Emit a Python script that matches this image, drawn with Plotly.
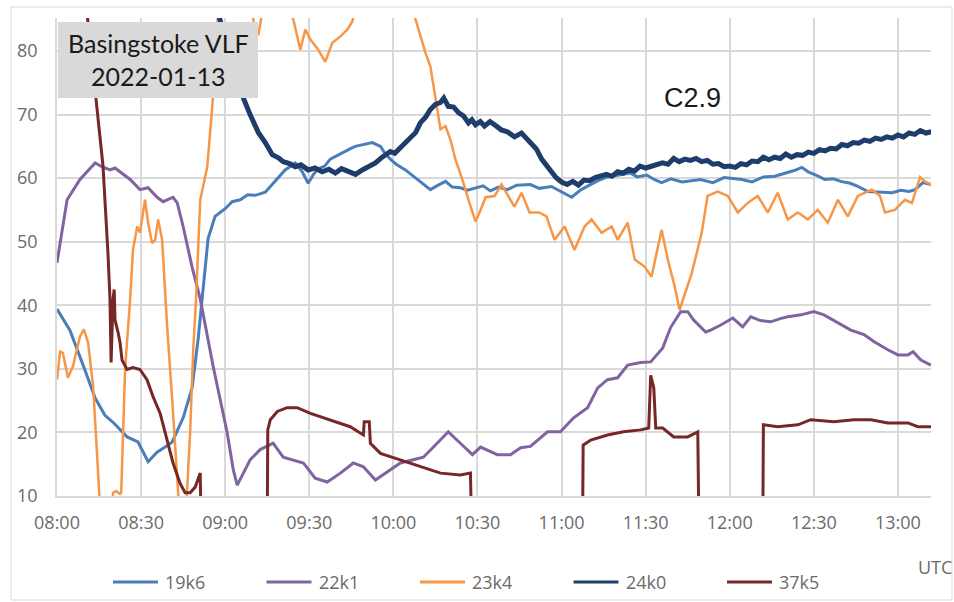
import pandas as pd
import plotly.graph_objects as go

# ---------------- data (minutes after 08:00 UTC, signal level) ----------------
series_names = ["19k6", "22k1", "23k4", "24k0", "37k5"]
series_colors = ["#4a7ebb", "#8064a2", "#f79646", "#1f3d6b", "#772726"]
series_widths = [3, 3, 2.5, 5, 3]

t_19k6 = [0, 4.6, 9.3, 13.6, 17.1, 20, 25, 28.9, 32.5, 35.7, 38.6, 41.1, 45, 48.2, 50.4, 52.1,
          53.9, 56.4, 58, 60, 62.5, 65.4, 68, 70.7, 74.3, 77.9, 81.4, 85, 87.5, 89.6, 91.5, 93.2,
          95.5, 97.5, 100, 102.9, 104.5, 106.4, 109, 112.5, 115.4, 117, 118.9, 121, 124.3, 127,
          129.6, 133.2, 136, 138.6, 141, 143.9, 146.5, 149.3, 152, 154.6, 157.5, 160.7, 164,
          168.9, 172, 176.4, 180, 183.6, 187, 190.4, 193, 196.4, 200, 204.6, 207, 210.4, 213,
          215.7, 219, 223, 229.6, 234, 238, 244.3, 248, 252, 256.1, 260, 263, 265.7, 268, 270.7,
          273.9, 277, 279.6, 283, 285.7, 289.3, 293, 297.9, 301, 304, 306.1, 308.9, 312]
v_19k6 = [39.4, 36.1, 30.6, 25.4, 22.7, 21.6, 19.3, 18.5, 15.4, 16.9, 17.7, 18.5, 22.3, 27, 34.9, 42,
          50.5, 54, 54.6, 55.2, 56.3, 56.6, 57.4, 57.3, 57.8, 59.5, 61.3, 62.4, 61, 59.2, 60.6, 61.5,
          61.9, 63, 63.6, 64.3, 64.6, 65, 65.3, 65.6, 65, 63.9, 63, 62.2, 61.3, 60.4,
          59.5, 58.2, 58.9, 59.5, 58.6, 58.5, 58.1, 58.5, 58.8, 58, 58.6, 58.2, 58.9,
          59, 58.4, 58.7, 57.9, 57, 58.2, 59, 59.6, 60.2, 60.5, 60.8, 60.2, 60.5, 59.8,
          59.3, 59.9, 59.4, 59.8, 59.3, 60.1, 59.8, 59.4, 60.2, 60.3, 60.8, 61.2, 61.7, 61, 60.5,
          59.8, 59.9, 59.5, 59.2, 58.7, 57.9, 57.8, 57.7, 58.1, 57.9, 58.2, 59.3, 59]

t_22k1 = [0, 3.6, 8.2, 13.6, 16, 18.9, 20.7, 23, 26.1, 29.6, 32.5, 35.7, 37.9, 41.4, 42.9, 45,
          48.2, 51.1, 55.7, 60.7, 62.9, 64.3, 66.4, 68.9, 72.5, 77.1, 80.7, 84.3, 87.9, 92.1,
          96.4, 101.1, 105.7, 109.3, 113.6, 117.9, 122.5, 127.1, 130.7, 134.3, 139.6, 143.9,
          148.2, 151.1, 157.1, 161.8, 165.4, 168.9, 172, 175, 179.6, 184.3, 189.3, 192.9, 196.4,
          200, 203.6, 208.2, 211.8, 216.1, 218.9, 222.5, 225, 227.1, 231.4, 233.2, 236.8, 241.1,
          244.6, 247.5, 251, 254.6, 258, 260.7, 265.4, 270, 273.6, 278.6, 283.2, 287.9, 291.4,
          296.4, 300, 303.6, 305.4, 308.2, 311.8]
v_22k1 = [46.7, 56.6, 59.8, 62.4, 61.8, 61.3, 61.6, 60.8, 59.8, 58.2, 58.5, 57, 56.3, 57, 56.1, 52.4,
          46, 41, 30.4, 20, 14.1, 11.7, 13.6, 15.7, 17.3, 18.3, 16.1, 15.7, 15.2, 12.8,
          12.2, 13.6, 15.2, 14.6, 12.5, 13.8, 15.2, 15.7, 16.1, 17.7, 20.1, 18.3,
          16.5, 17.7, 16.5, 16.5, 17.6, 17.8, 18.9, 20.1, 20.1, 22.3, 23.9, 27, 28.3,
          28.6, 30.6, 31, 31.1, 33.3, 36.5, 39, 39, 37.7, 35.8, 36.1, 36.9, 38,
          36.6, 38.2, 37.6, 37.4, 37.9, 38.2, 38.5, 39, 38.5, 37.2, 36.1, 35.4, 34.3,
          33, 32.2, 32.2, 32.7, 31.4, 30.6]

t_23k4 = [0, 1.1, 2.1, 3.9, 5.7, 8.2, 9.6, 11.1, 12.9, 14.3, 15.4, 18.9, 20, 21.1, 22.5, 22.9,
          24.3, 26.1, 27.1, 28.6, 29.6, 31.4, 32.5, 33.9, 35, 36.1, 37.5, 38.6, 39.3, 41.1, 42.9,
          43.6, 45.7, 46.4, 47.5, 48.6, 49.6, 51.1, 53.6, 55.4, 56.4, 57.9, 68.9, 70.4, 71.8,
          73.2, 79.6, 84.3, 86.8, 88.6, 90.4, 93.2, 95.7, 98.2, 101.1, 103.6, 105.4, 107.1,
          126.1, 127.9, 131.4, 133.2, 135, 136.1, 136.8, 138.6, 140.4, 142.1, 144.6, 146.8,
          149.3, 151.1, 152.9, 156.1, 158.6, 160.7, 163.2, 165.7, 168.6, 172.1, 174.6, 177.5,
          181.1, 184.6, 188.2, 190.7, 194.3, 197.9, 200, 203.6, 206.1, 209.6, 212.1, 215.7,
          217.9, 220.4, 222.1, 226.4, 230, 232.1, 235.7, 239.3, 242.9, 246.4, 250, 253.6,
          257.1, 260.7, 264.3, 267.9, 271.4, 275, 278.6, 282.1, 285.7, 290.7, 293.6, 295.4,
          298.9, 302.5, 305, 307.9, 309.6, 312]
v_23k4 = [28.3, 32.7, 32.5, 28.6, 30.4, 35.1, 36.2, 34.1, 27.2, 17.3, 8, 5, 10.5, 10.8, 10.3, 10.5,
          30, 41, 48.7, 52.4, 51.4, 56.6, 53, 49.8, 50.3, 53.5, 50.3, 42, 36.6, 25.1, 12.5,
          8, 5, 10.5, 20, 33, 41, 56.6, 61.8, 71.3, 77.6, 90, 88, 84, 82.5,
          86, 90, 85, 80.2, 83.4, 81.8, 80.2, 78.3, 81.3, 82.3, 83.4, 84.7, 88,
          88, 85, 79.8, 77.6, 72.4, 69.3, 67.7, 68.2, 66, 63, 59.8, 56.6,
          53.2, 55, 57, 57.2, 59, 57.4, 55.5, 57.7, 54.6, 54.6, 54, 50.3,
          52.4, 48.7, 52.4, 53.5, 51.4, 52.4, 50.3, 53, 47.2, 46.1, 44.5, 51.9,
          47.2, 42.9, 39.3, 45, 51.4, 57.2, 57.9, 57.2, 54.6, 56.1, 57.2, 54.6,
          57.7, 53.5, 54.6, 53.5, 55, 53, 56.6, 54, 57.2, 58.2, 57.2, 54.6,
          55, 56.6, 56.1, 60.2, 59.5, 59]

t_24k0 = [56.4, 58.9, 61, 63.6, 66.4, 68.9, 71.8, 74.3, 76.8, 79, 80.7, 83, 85, 87, 89.6, 92,
          94.6, 97, 99.3, 101.5, 103.9, 106.5, 108.9, 111, 113.6, 116, 118.9, 120.5, 122.5,
          124.5, 126.1, 128, 129.6, 131.5, 133.2, 135, 136.8, 138, 139.6, 141.5, 143.2, 145,
          146.8, 148, 149.3, 151, 152.5, 154.5, 156.1, 158.5, 160.7, 163.2, 165.7, 167.5,
          169.3, 171, 172.9, 174.5, 176.4, 178,
          180, 182, 184, 186, 188, 190, 192, 194, 196, 198, 200, 202, 204, 206, 208, 210, 212,
          214, 216, 218, 220, 222, 224, 226, 228, 230, 232, 234, 236, 238, 240, 242, 244, 246,
          248, 250, 252, 254, 256, 258, 260, 262, 264, 266, 268, 270, 272, 274, 276, 278, 280,
          282, 284, 286, 288, 290, 292, 294, 296, 298, 300, 302, 304, 306, 308, 310, 312]
v_24k0 = [88, 84, 80, 77, 72.7, 70, 67.2, 65.6, 63.7, 63.2, 62.6, 62.3, 61.8, 62.1, 61.3, 61.6,
          61, 61.4, 60.8, 61.5, 61, 60.6, 61.3, 61.8, 62.4, 63.3, 64.2, 63.9, 64.8,
          65.9, 66.5, 67.2, 68.7, 69.6, 70.8, 71.6, 71.9, 72.6, 71.3, 71.2, 70.3, 69.8,
          68.7, 69.2, 68.4, 68.9, 68.2, 68.9, 68.4, 67.6, 67.3, 66.5, 67.1, 66.3,
          65.6, 64.6, 63, 62, 60.8, 60.1,
          59.4, 59.0, 59.5, 58.9, 59.7, 59.6, 60.1, 60.4, 60.6, 60.3, 61.0, 60.8, 61.4, 61.1, 61.9, 61.6, 61.9,
          62.1, 62.4, 62.2, 63.1, 62.6, 63.0, 62.8, 63.1, 62.6, 62.8, 62.2, 62.3, 61.8, 61.9, 61.7, 62.3, 62.1,
          62.7, 62.6, 63.3, 62.9, 63.3, 63.1, 63.8, 63.3, 63.7, 63.6, 64.1, 63.9, 64.5, 64.3, 64.7, 64.6, 65.3,
          65.1, 65.6, 65.5, 66.0, 65.8, 66.3, 66.1, 66.5, 66.3, 66.8, 66.5, 67.1, 66.9, 67.5, 67.1, 67.3]

t_37k5 = [10.7, 14.3, 16.4, 18.2, 18.9, 19.3, 20, 20.4, 20.7, 21.8, 22.5, 23.2, 25, 27.1, 29.6,
          32.1, 34.3, 36.8, 39.3, 41.4, 43.9, 45.7, 47.5, 49.3, 51.1, 51.4,
          75, 75.2, 76.1, 78.6, 82.1, 85.7, 90.4, 97.5, 104.6, 109.3, 109.6, 111.4, 111.8, 115.4,
          122.5, 129.6, 136.8, 143.9, 147.5, 147.9,
          187.5, 187.7, 190.4, 196.4, 202.1, 208.2, 211.1, 211.8, 212.9, 213.6, 216.1, 220, 225,
          228.6, 229,
          251.8, 252, 257.1, 264.3, 268.9, 277.1, 284.3, 290.4, 296.4, 303.6, 307.1, 311.8]
v_37k5 = [86, 71, 62, 48, 41, 31, 41, 42.5, 37.7, 35.7, 34.1, 31.4, 29.9, 30.2, 29.9,
          28.3, 25.6, 23, 18.8, 15.2, 12, 10.5, 10.5, 11.4, 13.6, 5,
          5, 20.4, 22, 23.3, 23.9, 23.9, 23, 22, 20.9, 19.6, 21.7, 21.7, 18.3, 16.7,
          15.7, 14.6, 13.6, 13.3, 13.6, 5,
          5, 18, 18.8, 19.6, 20.1, 20.4, 20.7, 29, 27, 20.7, 20.7, 19.3, 19.3,
          20.1, 5,
          5, 21.2, 20.9, 21.2, 22, 21.7, 22, 22, 21.5, 21.5, 20.9, 20.9]

y_ticks = [10, 20, 30, 40, 50, 60, 70, 80]
x_tick_labels = ["08:00", "08:30", "09:00", "09:30", "10:00", "10:30", "11:00", "11:30",
                 "12:00", "12:30", "13:00"]
title_text = "Basingstoke VLF<br>2022-01-13"
event_label = "C2.9"
x_unit = "UTC"

# ---------------- build ----------------
base = pd.Timestamp("2022-01-13 08:00")


def to_time(mins):
    return [base + pd.Timedelta(minutes=m) for m in mins]


all_t = [t_19k6, t_22k1, t_23k4, t_24k0, t_37k5]
all_v = [v_19k6, v_22k1, v_23k4, v_24k0, v_37k5]

fig = go.Figure()
for name, t, v, c, w in zip(series_names, all_t, all_v, series_colors, series_widths):
    fig.add_trace(go.Scatter(x=to_time(t), y=v, mode="lines", name=name,
                             line=dict(color=c, width=w), showlegend=False))

W, H = 954, 602
ML, MR, MT, MB = 57, 23, 18, 106
PW, PH = W - ML - MR, H - MT - MB


def px(xp):
    return (xp - ML) / PW


def py(yp):
    return (H - MB - yp) / PH


grid = "#d9d9d9"
tick_font = dict(family="Open Sans", size=18, color="#6b6b6b")

tickvals = [base + pd.Timedelta(minutes=30 * i) for i in range(len(x_tick_labels))]
fig.update_xaxes(type="date", range=[base, base + pd.Timedelta(minutes=311.8)],
                 tickvals=tickvals, ticktext=x_tick_labels, showgrid=True, gridcolor=grid,
                 gridwidth=1.5, showline=True, linecolor=grid, linewidth=1.5, ticks="",
                 ticklabelstandoff=10, tickfont=tick_font, zeroline=False)
fig.update_yaxes(range=[10, 85.2], tickvals=y_ticks, showgrid=True, gridcolor=grid, gridwidth=1.5,
                 showline=True, linecolor=grid, linewidth=1.5, ticks="", ticklabelstandoff=14,
                 tickfont=tick_font, zeroline=False)

shapes = [
    dict(type="rect", xref="paper", yref="paper", x0=px(11), x1=px(952), y0=py(600), y1=py(7),
         line=dict(color="#d9d9d9", width=1), fillcolor="rgba(0,0,0,0)", layer="below"),
    dict(type="rect", xref="paper", yref="paper", x0=px(58), x1=px(258), y0=py(98), y1=py(22),
         line=dict(width=0), fillcolor="#d9d9d9", layer="above"),
]
annotations = [
    dict(xref="paper", yref="paper", x=px(158), y=py(60), text=title_text, showarrow=False,
         font=dict(family="Lato", size=25, color="#1a1a1a"), xanchor="center", yanchor="middle"),
    dict(xref="paper", yref="paper", x=px(692), y=py(98), text=event_label, showarrow=False,
         font=dict(family="Liberation Sans", size=27, color="#1a1a1a"), xanchor="center",
         yanchor="middle"),
    dict(xref="paper", yref="paper", x=px(916), y=py(567), text=x_unit, showarrow=False,
         font=tick_font, xanchor="left", yanchor="middle"),
]
# legend built from the series names
for i, (name, c) in enumerate(zip(series_names, series_colors)):
    x0 = 113 + 153.5 * i
    shapes.append(dict(type="line", xref="paper", yref="paper", x0=px(x0), x1=px(x0 + 45),
                       y0=py(582), y1=py(582), line=dict(color=c, width=3)))
    annotations.append(dict(xref="paper", yref="paper", x=px(x0 + 50), y=py(582), text=name,
                            showarrow=False, font=tick_font, xanchor="left", yanchor="middle"))

fig.update_layout(width=W, height=H, margin=dict(l=ML, r=MR, t=MT, b=MB),
                  paper_bgcolor="white", plot_bgcolor="white", shapes=shapes,
                  annotations=annotations, showlegend=False)

fig.write_html("out.html", config={"displayModeBar": False},
               post_script="document.body.style.margin='0';document.body.style.overflow='hidden';")
